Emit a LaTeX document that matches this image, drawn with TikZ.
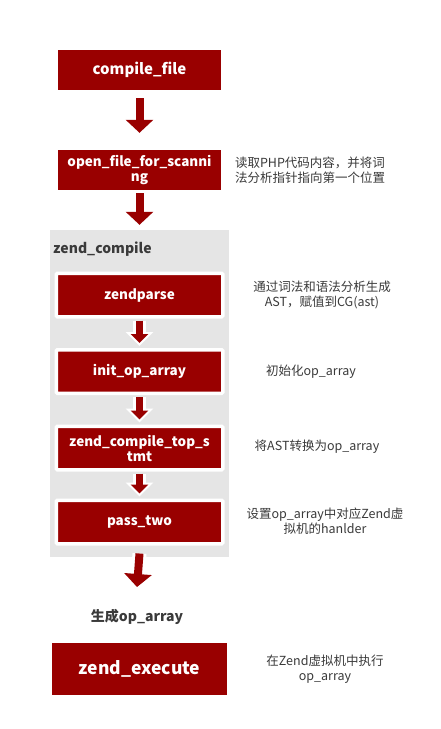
\documentclass[tikz,border=0pt]{standalone}
\usepackage{fontspec}
\setmainfont{Noto Sans CJK SC}
\usepackage{tikz}
\usetikzlibrary{arrows.meta}
\definecolor{dred}{HTML}{990000}
\definecolor{panelgray}{HTML}{E5E5E5}
\definecolor{notegray}{HTML}{3A3A3A}
\tikzset{
  redbox/.style={fill=dred, text=white, font=\bfseries\fontsize{13.5}{15}\selectfont,
    minimum width=163pt, minimum height=40pt, inner sep=0pt, align=center},
  innerbox/.style={redbox, draw=white, line width=3.5pt, rounded corners=1pt,
    minimum width=166.5pt, minimum height=43.5pt},
  note/.style={text=notegray, font=\fontsize{12.5}{15}\selectfont, align=center, inner sep=0pt},
  bigarrow/.style={dred, line width=8pt, -{Triangle[width=27pt,length=13pt]}},
  inarrow/.style={dred, line width=7pt, -{Triangle[width=17pt,length=9pt]},
    preaction={draw=white, line width=13pt, -{Triangle[width=27pt,length=14pt]}, shorten >=-3pt}}
}
\begin{document}
\begin{tikzpicture}[x=1pt, y=-1pt]
  \useasboundingbox[fill=white] (0,0) rectangle (441,729);
  \node[fill=panelgray, minimum width=179pt, minimum height=327pt, inner sep=0pt] (panel) at (139.5,393.5) {};
  \node[anchor=west, text=notegray, font=\bfseries\fontsize{14}{16}\selectfont, inner sep=0pt] (panellabel) at (53,249) {zend\_compile};

  \node[redbox, font=\bfseries\fontsize{15}{16}\selectfont] (compile) at (139.5,70) {compile\_file};
  \node[redbox] (openfile) at (139.5,170) {open\_file\_for\_scanni\\ng};
  \node[innerbox] (zendparse) at (139.5,295) {zendparse};
  \node[innerbox] (initop) at (139.5,371.5) {init\_op\_array};
  \node[innerbox] (topstmt) at (139.5,448) {zend\_compile\_top\_s\\tmt};
  \node[innerbox] (passtwo) at (139.5,522) {pass\_two};
  \node[text=notegray, font=\bfseries\fontsize{14}{16}\selectfont, inner sep=0pt] (result) at (137,617) {生成op\_array};
  \node[redbox, font=\bfseries\fontsize{17.5}{19}\selectfont, minimum width=175pt, minimum height=52pt] (execute) at (139.5,669) {zend\_execute};

  \draw[bigarrow] ([yshift=-8pt]compile.south) -- ([yshift=17pt]openfile.north);
  \draw[bigarrow] ([yshift=-3pt]openfile.south) -- ([yshift=5pt]panel.north);
  \draw[inarrow] ([yshift=-2pt]zendparse.south) -- ([yshift=5pt]initop.north);
  \draw[inarrow] ([yshift=-2pt]initop.south) -- ([yshift=5pt]topstmt.north);
  \draw[inarrow] ([yshift=-2pt]topstmt.south) -- ([yshift=5pt]passtwo.north);
  \draw[bigarrow, preaction={draw=white, line width=14pt, -, shorten >=25pt}] ([yshift=-8pt]passtwo.south) -- ([yshift=30pt]result.center);

  \node[note] (readnote) at (310,170) {读取PHP代码内容，并将词\\法分析指针指向第一个位置};
  \node[note] (parsenote) at (322,295) {通过词法和语法分析生成\\AST，赋值到CG(ast)};
  \node[note] (initnote) at (311,372) {初始化op\_array};
  \node[note] (stmtnote) at (317,447) {将AST转换为op\_array};
  \node[note] (passnote) at (325,521) {设置op\_array中对应Zend虚\\拟机的hanlder};
  \node[note] (execnote) at (325,669.5) {在Zend虚拟机中执行\\op\_array};
\end{tikzpicture}
\end{document}
